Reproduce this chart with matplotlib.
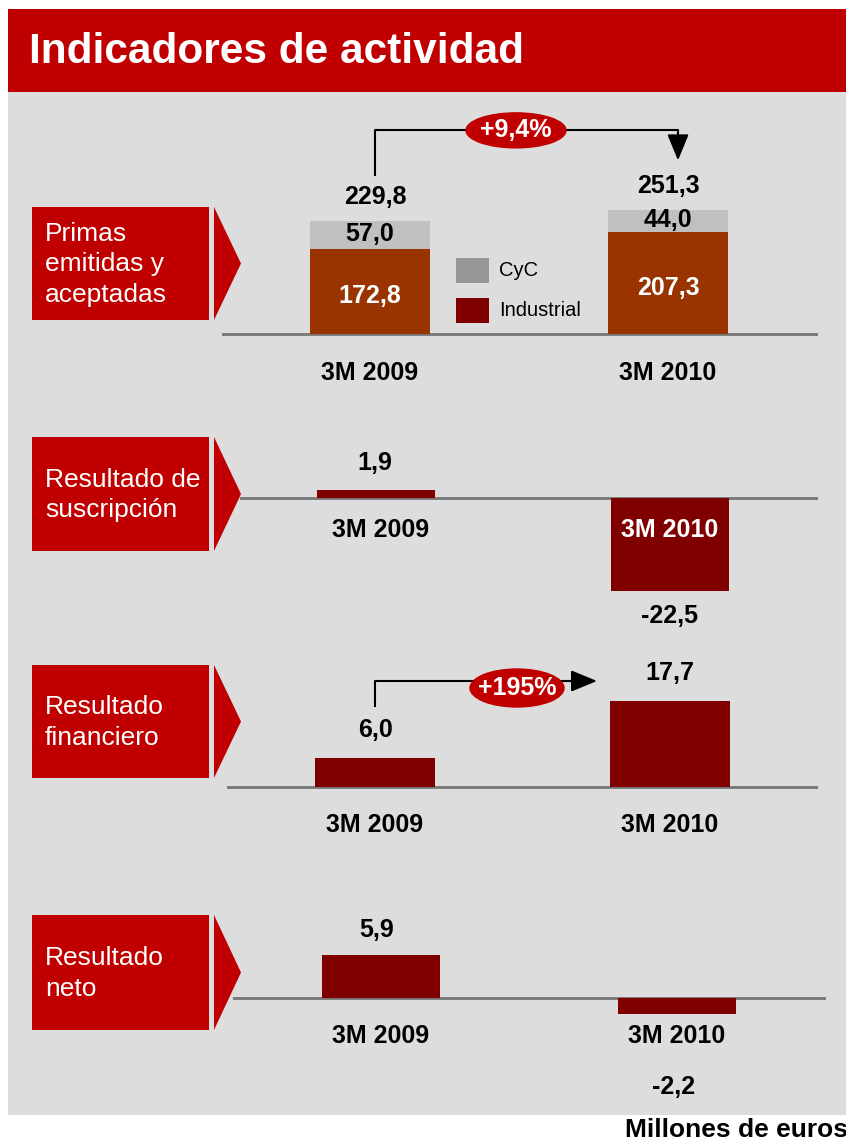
import matplotlib
matplotlib.use('Agg')
import matplotlib.pyplot as plt
from matplotlib.patches import Rectangle, Polygon, Ellipse, FancyArrowPatch

plt.rcParams['font.family'] = ['Liberation Sans', 'DejaVu Sans']

# ---- data ----
periods = ['3M 2009', '3M 2010']
primas_industrial = [172.8, 207.3]
primas_cyc = [57.0, 44.0]
primas_total = [229.8, 251.3]
res_suscripcion = [1.9, -22.5]
res_financiero = [6.0, 17.7]
res_neto = [5.9, -2.2]
growth_primas = '+9,4%'
growth_financiero = '+195%'
section_titles = ['Primas\nemitidas y\naceptadas', 'Resultado de\nsuscripción',
                  'Resultado\nfinanciero', 'Resultado\nneto']

RED = '#C00000'
DARK = '#800000'
BROWN = '#993300'
BG = '#DDDDDD'
LINE = '#767676'
ARROW = '-|>,head_length=0.8,head_width=0.33'

W, H = 846, 1145
fig = plt.figure(figsize=(W / 100, H / 100), dpi=100)

bg = fig.add_axes([0, 0, 1, 1])
bg.set_xlim(0, W)
bg.set_ylim(H, 0)
bg.axis('off')
bg.add_patch(Rectangle((8, 92), W - 8, 1023, color=BG, lw=0))
bg.add_patch(Rectangle((8, 9), W - 8, 83, color=RED, lw=0))
bg.text(29, 52, 'Indicadores de actividad', color='white', fontsize=30.5,
        fontweight='bold', va='center', ha='left')
bg.text(625, 1130, 'Millones de euros', color='black', fontsize=19,
        fontweight='bold', va='center', ha='left')

# red label boxes with arrow heads
boxes = [(207, 320), (437, 551), (665, 778), (915, 1030)]
for (t, b), title in zip(boxes, section_titles):
    bg.add_patch(Rectangle((32, t), 177, b - t, color=RED, lw=0))
    bg.add_patch(Polygon([(214, t), (241, (t + b) / 2), (214, b)], closed=True,
                         color=RED, lw=0))
    bg.text(45, (t + b) / 2 + 1, title, color='white', fontsize=19, va='center',
            ha='left', linespacing=1.33)


def fmt(v):
    return f'{v:.1f}'.replace('.', ',')


def section_axes(left, right, c0, c1, zero_y, scale, top, bottom):
    ax = fig.add_axes([left / W, 1 - bottom / H, (right - left) / W, (bottom - top) / H])
    ax.patch.set_alpha(0)
    ax.axis('off')
    span = c1 - c0
    ax.set_xlim((left - c0) / span, 1 + (right - c1) / span)
    ax.set_ylim(-(bottom - zero_y) / scale, (zero_y - top) / scale)
    ax.axhline(0, color=LINE, lw=2, zorder=1)
    ax.px_x = 1 / span
    ax.px_y = 1 / scale
    return ax


x = [0, 1]
lab = dict(fontsize=18, fontweight='bold', ha='center', va='center')

# ---- section 1: primas ----
ax1 = section_axes(222, 818, 370, 668, 334, 0.492, 100, 400)
bw = 120 * ax1.px_x
ax1.bar(x, primas_industrial, width=bw, color=BROWN, zorder=2)
ax1.bar(x, primas_cyc, width=bw, bottom=primas_industrial, color='#C0C0C0', zorder=2)
for i in x:
    ax1.text(i, primas_industrial[i] / 2 - 5 * ax1.px_y, fmt(primas_industrial[i]),
             color='white', **lab)
    ax1.text(i, primas_industrial[i] + primas_cyc[i] / 2 + 1 * ax1.px_y,
             fmt(primas_cyc[i]), color='black', **lab)
    ax1.text(i + 5 * ax1.px_x * (1 - i), primas_total[i] + 24 * ax1.px_y,
             fmt(primas_total[i]), color='black', **lab)
    ax1.text(i, -39 * ax1.px_y, periods[i], color='black', **lab)
# legend
lx = 0.29
for k, (name, col) in enumerate([('CyC', '#969696'), ('Industrial', DARK)]):
    yb = (334 - 283 - 40 * k) * ax1.px_y
    ax1.add_patch(Rectangle((lx, yb), 33 * ax1.px_x, 25 * ax1.px_y, color=col, lw=0))
    ax1.text(lx + 43 * ax1.px_x, yb + 12 * ax1.px_y, name, fontsize=14.5,
             va='center', ha='left', color='black')
# growth bracket
xa = 5 * ax1.px_x
xb = 1 + 10 * ax1.px_x
y_start = primas_total[0] + 46 * ax1.px_y
y_top = primas_total[1] + 80 * ax1.px_y
y_tip = primas_total[1] + 50 * ax1.px_y
ax1.plot([xa, xa, xb, xb], [y_start, y_top, y_top, y_tip + 15 * ax1.px_y],
         color='black', lw=1.5, zorder=3)
ax1.add_patch(FancyArrowPatch((xb, y_top - 5 * ax1.px_y), (xb, y_tip),
                              arrowstyle=ARROW, shrinkA=0, shrinkB=0,
                              mutation_scale=20, color='black', lw=1.5, zorder=3))
ex = (516 - 370) * ax1.px_x
ax1.add_patch(Ellipse((ex, y_top), 100 * ax1.px_x, 35 * ax1.px_y, color=RED, zorder=4))
ax1.text(ex, y_top, growth_primas, color='white', zorder=5, **lab)

# ---- section 2: resultado de suscripcion ----
ax2 = section_axes(240, 818, 376, 670, 498, 4.13, 420, 640)
bw = 118 * ax2.px_x
ax2.bar(x, res_suscripcion, width=bw, color=DARK, zorder=2)
ax2.text(0 - 1 * ax2.px_x, res_suscripcion[0] + 27 * ax2.px_y, fmt(res_suscripcion[0]), **lab)
ax2.text(0 + 5 * ax2.px_x, -32 * ax2.px_y, periods[0], color='black', **lab)
ax2.text(1, -32 * ax2.px_y, periods[1], color='white', zorder=3, **lab)
ax2.text(1, res_suscripcion[1] - 25 * ax2.px_y, fmt(res_suscripcion[1]), **lab)

# ---- section 3: resultado financiero ----
ax3 = section_axes(227, 818, 375, 670, 787, 4.86, 640, 860)
bw = 120 * ax3.px_x
ax3.bar(x, res_financiero, width=bw, color=DARK, zorder=2)
for i in x:
    ax3.text(i, res_financiero[i] + 28 * ax3.px_y, fmt(res_financiero[i]), **lab)
    ax3.text(i, -38 * ax3.px_y, periods[i], color='black', **lab)
y_start = res_financiero[0] + 52 * ax3.px_y
y_top = (787 - 681) * ax3.px_y
x_tip = (597 - 375) * ax3.px_x
ax3.plot([0, 0, x_tip - 15 * ax3.px_x], [y_start, y_top, y_top], color='black', lw=1.5, zorder=3)
ax3.add_patch(FancyArrowPatch((x_tip - 25 * ax3.px_x, y_top), (x_tip, y_top),
                              arrowstyle=ARROW, shrinkA=0, shrinkB=0,
                              mutation_scale=20, color='black', lw=1.5, zorder=3))
ex = (517 - 375) * ax3.px_x
ey = (787 - 688) * ax3.px_y
ax3.add_patch(Ellipse((ex, ey), 94 * ax3.px_x, 38 * ax3.px_y, color=RED, zorder=4))
ax3.text(ex, ey, growth_financiero, color='white', zorder=5, **lab)

# ---- section 4: resultado neto ----
ax4 = section_axes(233, 826, 381, 677, 998, 7.3, 900, 1110)
bw = 118 * ax4.px_x
ax4.bar(x, res_neto, width=bw, color=DARK, zorder=2)
ax4.text(0 - 4 * ax4.px_x, res_neto[0] + 25 * ax4.px_y, fmt(res_neto[0]), **lab)
ax4.text(1 - 3 * ax4.px_x, res_neto[1] - 73 * ax4.px_y, fmt(res_neto[1]), **lab)
for i in x:
    ax4.text(i, -38 * ax4.px_y, periods[i], color='black', **lab)

fig.savefig('out.png', dpi=100)
